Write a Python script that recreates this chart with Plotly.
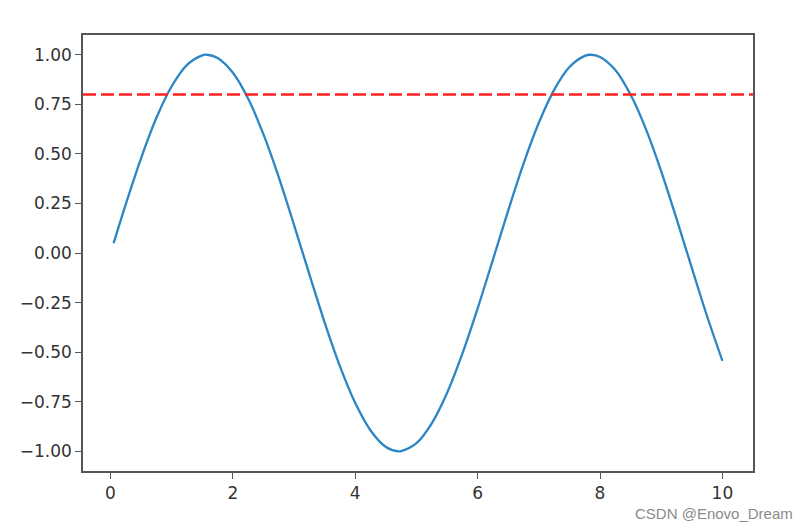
import plotly.graph_objects as go

# Values
x_vals = [0.05, 0.25, 0.5, 0.75, 1.0, 1.25, 1.5, 1.57, 1.75, 2.0, 2.25, 2.5, 2.75, 3.0,
          3.25, 3.5, 3.75, 4.0, 4.25, 4.5, 4.71, 4.75, 5.0, 5.25, 5.5, 5.75, 6.0, 6.25,
          6.5, 6.75, 7.0, 7.25, 7.5, 7.75, 7.85, 8.0, 8.25, 8.5, 8.75, 9.0, 9.25, 9.5,
          9.75, 10.0]
y_vals = [0.05, 0.247, 0.479, 0.682, 0.841, 0.949, 0.997, 1.0, 0.984, 0.909, 0.778, 0.598,
          0.382, 0.141, -0.108, -0.351, -0.572, -0.757, -0.895, -0.978, -1.0, -0.999,
          -0.959, -0.859, -0.706, -0.508, -0.279, -0.033, 0.215, 0.451, 0.657, 0.823,
          0.938, 0.994, 1.0, 0.989, 0.923, 0.798, 0.625, 0.412, 0.173, -0.075, -0.319,
          -0.544]
threshold = 0.8

x_ticks = [0, 2, 4, 6, 8, 10]
x_tick_labels = ["0", "2", "4", "6", "8", "10"]
y_ticks = [1.0, 0.75, 0.5, 0.25, 0.0, -0.25, -0.5, -0.75, -1.0]
y_tick_labels = ["1.00", "0.75", "0.50", "0.25", "0.00", "\u22120.25", "\u22120.50", "\u22120.75", "\u22121.00"]

fig = go.Figure()
fig.add_trace(go.Scatter(x=x_vals, y=y_vals, mode="lines",
                         line=dict(color="#2c85c4", width=2.3, shape="spline", smoothing=1.0),
                         showlegend=False, hoverinfo="skip"))

fig.add_shape(type="line", xref="paper", x0=0, x1=1, yref="y", y0=threshold, y1=threshold,
              line=dict(color="#ff2020", width=2.5, dash="13px,5px"))

font = dict(family="DejaVu Sans", size=17, color="#333333")
axis_common = dict(showline=True, mirror=True, linecolor="#555555", linewidth=1.6,
                   ticks="outside", ticklen=6, tickwidth=1.4, tickcolor="#555555",
                   showgrid=False, zeroline=False, tickfont=font, automargin=False)

W, H = 804, 521
L, R, T, B = 75, 59, 27, 58
fig.update_layout(
    width=W, height=H,
    margin=dict(l=L, r=R, t=T, b=B),
    plot_bgcolor="white", paper_bgcolor="white",
    xaxis=dict(range=[-0.45, 10.5], tickvals=x_ticks, ticktext=x_tick_labels, **axis_common),
    yaxis=dict(range=[-1.0995, 1.0995], tickvals=y_ticks, ticktext=y_tick_labels, **axis_common),
    annotations=[dict(text="CSDN @Enovo_Dream", xref="paper", yref="paper",
                      x=(787 - L) / (W - L - R), y=-(505 - (H - B)) / (H - T - B),
                      xanchor="right", yanchor="middle", showarrow=False,
                      font=dict(family="Liberation Sans", size=15, color="#8a8a8a"))],
)

fig.write_html("out.html")
